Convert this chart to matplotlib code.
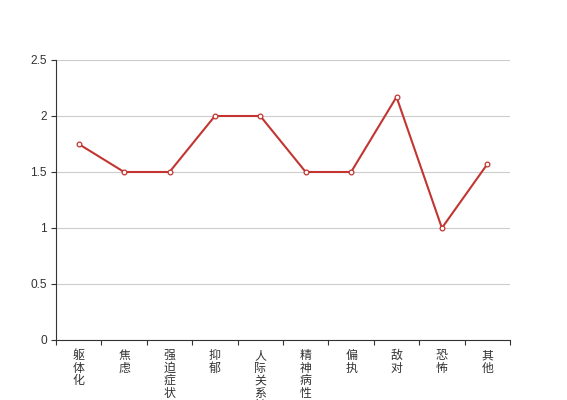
import matplotlib
matplotlib.use("Agg")
import matplotlib.pyplot as plt
from matplotlib.ticker import FixedLocator

plt.rcParams['font.family'] = ['Noto Sans CJK SC', 'DejaVu Sans']

categories = ['躯体化', '焦虑', '强迫症状', '抑郁', '人际关系敏感', '精神病性', '偏执', '敌对', '恐怖', '其他']
values = [1.75, 1.5, 1.5, 2, 2, 1.5, 1.5, 2.17, 1, 1.57]
yticks = [0, 0.5, 1, 1.5, 2, 2.5]
ytick_labels = ['0', '0.5', '1', '1.5', '2', '2.5']

W, H = 567, 400
fig = plt.figure(figsize=(W / 100, H / 100), dpi=100)
ax = fig.add_axes([56 / W, 60 / H, (510 - 56) / W, 280 / H])

color = '#c23531'
x = list(range(len(categories)))
ax.plot(x, values, color=color, linewidth=1.5, marker='o', markersize=3.4,
        markerfacecolor='white', markeredgecolor=color, markeredgewidth=0.9, zorder=3,
        clip_on=False)

ax.set_xlim(-0.5, len(categories) - 0.5)
ax.set_ylim(0, 2.5)
ax.set_yticks(yticks)
ax.set_yticklabels(ytick_labels, family=['Liberation Sans', 'DejaVu Sans'])
ax.yaxis.grid(True, color='#cccccc', linewidth=0.8)
ax.set_axisbelow(True)

ax.set_xticks(x)
ax.set_xticklabels(['\n'.join(c) for c in categories], va='top', linespacing=0.95)
ax.xaxis.set_minor_locator(FixedLocator([i - 0.5 for i in range(len(categories) + 1)]))
ax.tick_params(axis='x', which='major', length=0, pad=6.5, labelsize=8.6, labelcolor='#333333')
ax.tick_params(axis='x', which='minor', length=3.6, width=0.8, color='#333333', direction='out')
ax.tick_params(axis='y', length=3.6, width=0.8, color='#333333', labelsize=8.6, labelcolor='#333333', pad=3)

for s in ['top', 'right']:
    ax.spines[s].set_visible(False)
for s in ['left', 'bottom']:
    ax.spines[s].set_color('#333333')
    ax.spines[s].set_linewidth(0.8)

fig.savefig('out.png', dpi=100)
